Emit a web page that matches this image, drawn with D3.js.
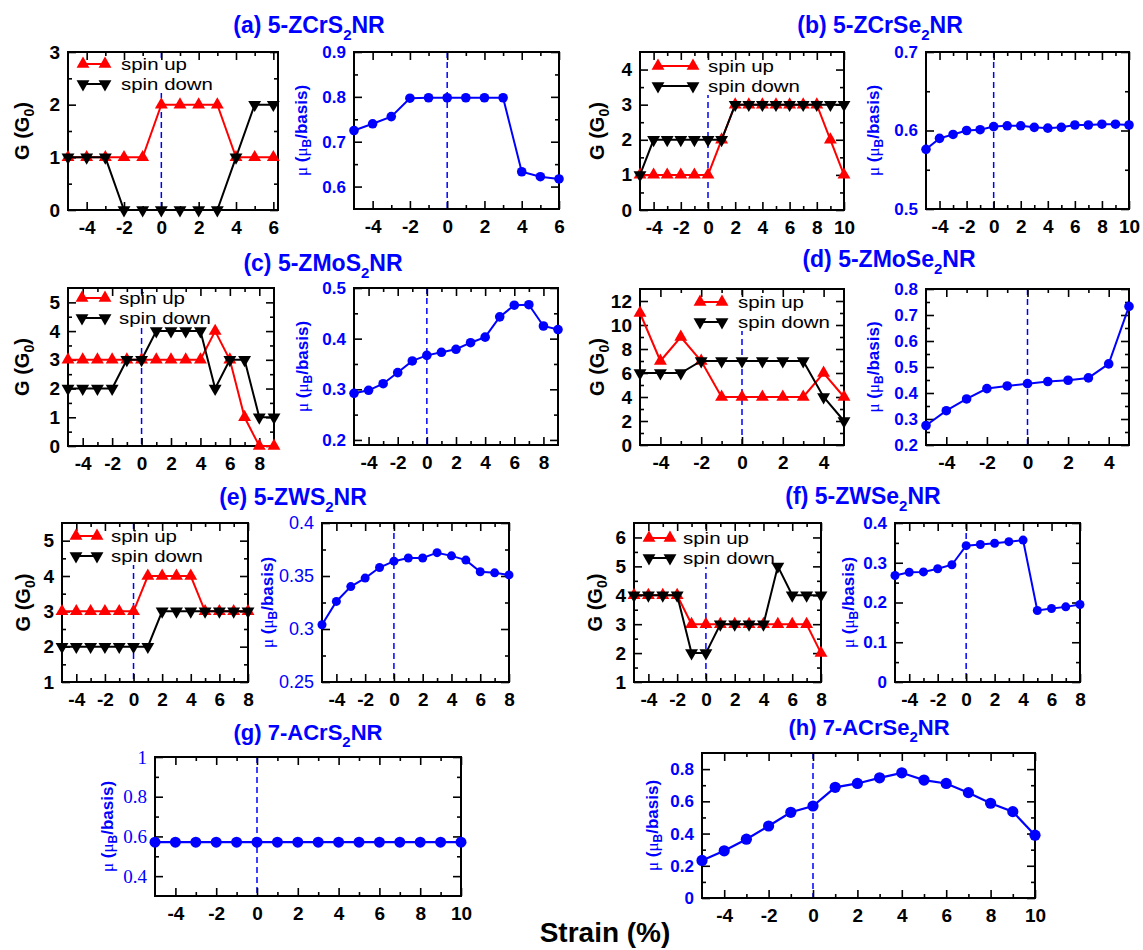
<!DOCTYPE html>
<html>
<head>
<meta charset="utf-8">
<script src="https://cdn.jsdelivr.net/npm/d3@7"></script>
<style>
  body { margin: 0; background: #fff; }
  svg { display: block; }
</style>
</head>
<body>
<svg id="fig" width="1143" height="950"></svg>
<script>
// ---------- strain grids (%) ----------
const strainA = [-5,-4,-3,-2,-1,0,1,2,3,4,5,6];
const strainB = [-5,-4,-3,-2,-1,0,1,2,3,4,5,6,7,8,9,10];
const strainC = [-5,-4,-3,-2,-1,0,1,2,3,4,5,6,7,8,9];
const strainD = [-5,-4,-3,-2,-1,0,1,2,3,4,5];
const strainE = [-5,-4,-3,-2,-1,0,1,2,3,4,5,6,7,8];
const strainF = [-5,-4,-3,-2,-1,0,1,2,3,4,5,6,7,8];
const strainG = [-5,-4,-3,-2,-1,0,1,2,3,4,5,6,7,8,9,10];
const strainH = [-5,-4,-3,-2,-1,0,1,2,3,4,5,6,7,8,9,10];

// ---------- conductance G (G0) ----------
const gUpA   = [1,1,1,1,1,2,2,2,2,1,1,1];
const gDownA = [1,1,1,0,0,0,0,0,0,1,2,2];
const gUpB   = [1,1,1,1,1,1,2,3,3,3,3,3,3,3,2,1];
const gDownB = [1,2,2,2,2,2,2,3,3,3,3,3,3,3,3,3];
const gUpC   = [3,3,3,3,3,3,3,3,3,3,4,3,1,0,0];
const gDownC = [2,2,2,2,3,3,4,4,4,4,2,3,3,1,1];
const gUpD   = [11,7,9,7,4,4,4,4,4,6,4];
const gDownD = [6,6,6,7,7,7,7,7,7,4,2];
const gUpE   = [3,3,3,3,3,3,4,4,4,4,3,3,3,3];
const gDownE = [2,2,2,2,2,2,2,3,3,3,3,3,3,3];
const gUpF   = [4,4,4,4,3,3,3,3,3,3,3,3,3,2];
const gDownF = [4,4,4,4,2,2,3,3,3,3,5,4,4,4];

// ---------- magnetic moment mu (muB/basis) ----------
const muA = [0.725,0.740,0.756,0.797,0.798,0.798,0.798,0.798,0.798,0.633,0.622,0.617];
const muB = [0.576,0.590,0.595,0.600,0.601,0.605,0.606,0.606,0.604,0.603,0.604,0.607,0.607,0.608,0.608,0.607];
const muC = [0.292,0.298,0.311,0.333,0.356,0.367,0.373,0.379,0.392,0.403,0.443,0.466,0.467,0.425,0.418];
const muD = [0.275,0.332,0.377,0.417,0.427,0.436,0.444,0.449,0.458,0.512,0.733];
const muE = [0.304,0.326,0.340,0.348,0.358,0.364,0.367,0.367,0.372,0.369,0.365,0.354,0.353,0.351];
const muF = [0.268,0.276,0.277,0.285,0.295,0.343,0.346,0.349,0.353,0.357,0.180,0.185,0.189,0.195];
const muG = [0.571,0.571,0.571,0.571,0.571,0.571,0.571,0.571,0.571,0.571,0.571,0.571,0.571,0.571,0.571,0.571];
const muH = [0.233,0.293,0.365,0.447,0.532,0.571,0.687,0.711,0.746,0.777,0.732,0.711,0.654,0.588,0.536,0.390];

// ---------- tick labels ----------
const xTicksA = [-4,-2,0,2,4,6];
const xTicksB = [-4,-2,0,2,4,6,8,10];
const xTicksC = [-4,-2,0,2,4,6,8];
const xTicksD = [-4,-2,0,2,4];
const xTicksE = [-4,-2,0,2,4,6,8];
const yTicksGA = [0,1,2,3];
const yTicksGB = [0,1,2,3,4];
const yTicksGC = [0,1,2,3,4,5];
const yTicksGD = [0,2,4,6,8,10,12];
const yTicksGE = [1,2,3,4,5];
const yTicksGF = [1,2,3,4,5,6];
const yTicksMuA = [0.6,0.7,0.8,0.9];
const yTicksMuB = [0.5,0.6,0.7];
const yTicksMuC = [0.2,0.3,0.4,0.5];
const yTicksMuD = [0.2,0.3,0.4,0.5,0.6,0.7,0.8];
const yTicksMuE = [0.25,0.3,0.35,0.4];
const yTicksMuF = [0,0.1,0.2,0.3,0.4];
const yTicksMuG = [0.4,0.6,0.8,1];
const yTicksMuH = [0,0.2,0.4,0.6,0.8];

// ---------- panel titles (text, subscript, tail) ----------
const titles = [
  ["(a) 5-ZCrS", "2", "NR"],
  ["(b) 5-ZCrSe", "2", "NR"],
  ["(c) 5-ZMoS", "2", "NR"],
  ["(d) 5-ZMoSe", "2", "NR"],
  ["(e) 5-ZWS", "2", "NR"],
  ["(f) 5-ZWSe", "2", "NR"],
  ["(g) 7-ACrS", "2", "NR"],
  ["(h) 7-ACrSe", "2", "NR"]
];
const legendLabels = ["spin up", "spin down"];
const xTitle = "Strain (%)";

// ---------- drawing ----------
const SANS = "'Liberation Sans', Arial, Helvetica, sans-serif";
const SERIF = "'Liberation Serif', 'Times New Roman', serif";
const BLUE = "#0000ff", RED = "#ff0000", BLACK = "#000000";
const svg = d3.select("#fig");
const fmt = d => String(+(+d).toFixed(3));

// dashed zero-strain guide
function zeroLine(g, xs, h) {
  g.append("line").attr("x1", xs(0)).attr("x2", xs(0)).attr("y1", 0).attr("y2", h)
    .attr("stroke", BLUE).attr("stroke-width", 1.5).attr("stroke-dasharray", "6,4");
}

function axes(g, xs, ys, w, h, xMaj, yMaj, yMin, opt) {
  const [x0, x1] = xs.domain();
  const xMin = d3.range(Math.ceil(x0), Math.floor(x1) + 1)
    .filter(v => v > x0 && v < x1 && !xMaj.includes(v));
  const add = (axis, tr) => {
    const a = g.append("g").attr("transform", tr).call(axis);
    a.select(".domain").remove();
    a.selectAll("line").attr("stroke", BLACK).attr("stroke-width", 1.6);
    return a;
  };
  const none = () => "";
  add(d3.axisBottom(xs).tickValues(xMin).tickSize(-4).tickFormat(none), `translate(0,${h})`);
  add(d3.axisTop(xs).tickValues(xMin).tickSize(-4).tickFormat(none), "translate(0,0)");
  add(d3.axisLeft(ys).tickValues(yMin).tickSize(-4).tickFormat(none), "translate(0,0)");
  add(d3.axisRight(ys).tickValues(yMin).tickSize(-4).tickFormat(none), `translate(${w},0)`);
  add(d3.axisTop(xs).tickValues(xMaj).tickSize(-8).tickFormat(none), "translate(0,0)");
  add(d3.axisRight(ys).tickValues(yMaj).tickSize(-8).tickFormat(none), `translate(${w},0)`);
  const bx = add(d3.axisBottom(xs).tickValues(xMaj).tickSize(-8).tickPadding(11).tickFormat(d => String(d)), `translate(0,${h})`);
  bx.selectAll("text").attr("font-family", SANS).attr("font-size", 19)
    .attr("font-weight", "bold").attr("fill", BLACK);
  const ly = add(d3.axisLeft(ys).tickValues(yMaj).tickSize(-8).tickPadding(opt.pad || 8).tickFormat(fmt), "translate(0,0)");
  ly.selectAll("text").attr("font-family", opt.yFont || SANS).attr("font-size", opt.yFs)
    .attr("font-weight", opt.yWeight || "bold").attr("fill", opt.yColor);
  g.append("rect").attr("width", w).attr("height", h).attr("fill", "none")
    .attr("stroke", BLACK).attr("stroke-width", 2);
}

const triUp = d3.symbol().type(d3.symbolTriangle).size(72)();
// legend text widths (px) for the two entries
const legendWidths = [66, 92];

function gPanel(c, strain, up, down, xMaj, yMaj) {
  const g = svg.append("g").attr("transform", `translate(${c.x},${c.y})`);
  const xs = d3.scaleLinear().domain(c.xd).range([0, c.w]);
  const ys = d3.scaleLinear().domain(c.yd).range([c.h, 0]);
  const yMin = d3.range(c.yd[0], c.yd[1] + 1e-9, c.yStep / 2).filter(v => !yMaj.some(m => Math.abs(m - v) < 1e-9) && v > c.yd[0] && v < c.yd[1] - 1e-9);
  const L = c.leg;
  zeroLine(g, xs, c.h);
  // opaque legend box (no border) hides the guide behind the entries
  const top = Math.max(L.ty - 10, 9);
  g.append("rect").attr("x", L.s1 - 9).attr("y", top)
    .attr("width", L.tx + legendWidths[1] + 4 - (L.s1 - 9)).attr("height", L.ty + 29 - top)
    .attr("fill", "#fff");
  axes(g, xs, ys, c.w, c.h, xMaj, yMaj, yMin, { yFs: 19, yColor: BLACK });
  const line = d3.line().x(d => xs(d[0])).y(d => ys(d[1]));
  [[up, RED, 0], [down, BLACK, 180]].forEach(([vals, col, rot]) => {
    const pts = d3.zip(strain, vals);
    g.append("path").attr("d", line(pts)).attr("fill", "none").attr("stroke", col).attr("stroke-width", 2);
    g.selectAll(null).data(pts).join("path").attr("d", triUp).attr("fill", col)
      .attr("transform", d => `translate(${xs(d[0])},${ys(d[1])}) rotate(${rot})`);
  });
  // legend entries
  [[RED, 0], [BLACK, 180]].forEach(([col, rot], i) => {
    const yy = L.ty + i * 20;
    g.append("line").attr("x1", L.s1).attr("x2", L.s2).attr("y1", yy).attr("y2", yy)
      .attr("stroke", col).attr("stroke-width", 2);
    [L.s1, L.s2].forEach(sx => g.append("path").attr("d", triUp).attr("fill", col)
      .attr("transform", `translate(${sx},${yy}) rotate(${rot})`));
    g.append("text").attr("x", L.tx).attr("y", yy).attr("dy", "0.35em")
      .attr("font-family", SANS).attr("font-size", 17).attr("fill", BLACK)
      .attr("textLength", legendWidths[i]).attr("lengthAdjust", "spacingAndGlyphs")
      .text(legendLabels[i]);
  });
  // y-axis title G (G0)
  const t = svg.append("text").attr("transform", `translate(${c.lx},${c.y + c.h / 2}) rotate(-90)`)
    .attr("text-anchor", "middle").attr("dy", "0.35em")
    .attr("font-family", SANS).attr("font-size", 20).attr("font-weight", "bold").attr("fill", BLACK);
  t.append("tspan").text("G (G");
  t.append("tspan").attr("font-size", 14).attr("dy", 5).text("0");
  t.append("tspan").attr("dy", -5).text(")");
}

function muPanel(c, strain, mu, xMaj, yMaj) {
  const g = svg.append("g").attr("transform", `translate(${c.x},${c.y})`);
  const xs = d3.scaleLinear().domain(c.xd).range([0, c.w]);
  const ys = d3.scaleLinear().domain(c.yd).range([c.h, 0]);
  zeroLine(g, xs, c.h);
  axes(g, xs, ys, c.w, c.h, xMaj, yMaj, c.yMin,
       { yFs: c.yFs || 17, yColor: BLUE, yFont: c.yFont, yWeight: c.yWeight, pad: c.pad });
  const pts = d3.zip(strain, mu);
  const line = d3.line().x(d => xs(d[0])).y(d => ys(d[1]));
  g.append("path").attr("d", line(pts)).attr("fill", "none").attr("stroke", BLUE).attr("stroke-width", c.lw || 2);
  g.selectAll(null).data(pts).join("circle").attr("cx", d => xs(d[0])).attr("cy", d => ys(d[1]))
    .attr("r", c.r).attr("fill", BLUE);
  // y-axis title mu (muB/basis)
  const t = svg.append("text").attr("transform", `translate(${c.lx},${c.y + c.h / 2}) rotate(-90)`)
    .attr("text-anchor", "middle").attr("dy", "0.35em")
    .attr("font-family", SANS).attr("font-size", 17).attr("font-weight", "bold").attr("fill", BLUE);
  t.append("tspan").attr("font-family", SERIF).attr("font-weight", "normal").text("\u03bc");
  t.append("tspan").text(" (");
  t.append("tspan").attr("font-family", SERIF).attr("font-weight", "normal").text("\u03bc");
  t.append("tspan").attr("font-size", 12).attr("dy", 4).text("B");
  t.append("tspan").attr("dy", -4).text("/basis)");
}

// conductance panels
gPanel({x:68, y:52, w:210, h:158, xd:[-5,6.25], yd:[0,3], yStep:1, lx:22,
        leg:{s1:15, s2:37, tx:53, ty:12}}, strainA, gUpA, gDownA, xTicksA, yTicksGA);
gPanel({x:640, y:52, w:204, h:158, xd:[-5,10], yd:[0,4.5], yStep:1, lx:597,
        leg:{s1:18, s2:53, tx:68, ty:14}}, strainB, gUpB, gDownB, xTicksB, yTicksGB);
gPanel({x:68, y:288, w:206, h:158, xd:[-5,9], yd:[0,5.5], yStep:1, lx:22,
        leg:{s1:14, s2:37, tx:51, ty:10}}, strainC, gUpC, gDownC, xTicksC, yTicksGC);
gPanel({x:640, y:289, w:204, h:156, xd:[-5,5], yd:[0,13], yStep:2, lx:597,
        leg:{s1:60, s2:82, tx:98, ty:13}}, strainD, gUpD, gDownD, xTicksD, yTicksGD);
gPanel({x:62, y:523, w:186, h:159, xd:[-5,8], yd:[1,5.5], yStep:1, lx:23,
        leg:{s1:14, s2:35, tx:49, ty:13}}, strainE, gUpE, gDownE, xTicksE, yTicksGE);
gPanel({x:634, y:523, w:187, h:159, xd:[-5,8], yd:[1,6.5], yStep:1, lx:595,
        leg:{s1:15, s2:36, tx:49, ty:15}}, strainF, gUpF, gDownF, xTicksE, yTicksGF);

// magnetic-moment panels
muPanel({x:354, y:52, w:205, h:157, xd:[-5,6], yd:[0.55,0.9], yMin:[0.65,0.75,0.85], lx:301, r:4.8},
        strainA, muA, xTicksA, yTicksMuA);
muPanel({x:926, y:52, w:203, h:157, xd:[-5,10], yd:[0.5,0.7], yMin:[0.55,0.65], lx:873, r:4.8},
        strainB, muB, xTicksB, yTicksMuB);
muPanel({x:354, y:288, w:204, h:157, xd:[-5,9], yd:[0.19,0.5], yMin:[0.25,0.35,0.45], lx:302, r:4.8},
        strainC, muC, xTicksC, yTicksMuC);
muPanel({x:926, y:289, w:203, h:156, xd:[-5,5], yd:[0.2,0.8], yMin:[0.25,0.35,0.45,0.55,0.65,0.75], lx:873, r:4.8},
        strainD, muD, xTicksD, yTicksMuD);
muPanel({x:322, y:523, w:187, h:159, xd:[-5,8], yd:[0.25,0.4], yMin:[0.275,0.325,0.375], lx:267, r:4.5,
         yWeight:"normal", yFs:18}, strainE, muE, xTicksE, yTicksMuE);
muPanel({x:895, y:523, w:185, h:159, xd:[-5,8], yd:[0,0.4], yMin:[0.05,0.15,0.25,0.35], lx:848, r:4.5},
        strainF, muF, xTicksE, yTicksMuF);
muPanel({x:155, y:757, w:306, h:139, xd:[-5,10], yd:[0.3,1], yMin:[0.5,0.7,0.9], lx:107, r:5.5,
         yFont:SERIF, yWeight:"normal", yFs:19, lw:2.2}, strainG, muG, xTicksB, yTicksMuG);
muPanel({x:702, y:753, w:333, h:145, xd:[-5,10], yd:[0,0.9], yMin:[0.1,0.3,0.5,0.7], lx:652, r:5.6, lw:2.2},
        strainH, muH, xTicksB, yTicksMuH);

// panel titles
const titlePos = [[309,33],[880,33],[323,271],[889,267],[293,505],[863,504],[308,740],[869,735]];
titles.forEach((parts, i) => {
  const [tx, ty] = titlePos[i];
  const t = svg.append("text").attr("x", tx).attr("y", ty).attr("text-anchor", "middle")
    .attr("font-family", SANS).attr("font-size", i > 5 ? 22 : 23).attr("font-weight", "bold").attr("fill", BLUE);
  t.append("tspan").text(parts[0]);
  t.append("tspan").attr("font-size", 15).attr("dy", 7).text(parts[1]);
  t.append("tspan").attr("dy", -7).text(parts[2]);
});

// shared x-axis title
svg.append("text").attr("x", 605).attr("y", 942).attr("text-anchor", "middle")
  .attr("font-family", SANS).attr("font-size", 28).attr("font-weight", "bold").attr("fill", BLACK)
  .text(xTitle);
</script>
</body>
</html>
